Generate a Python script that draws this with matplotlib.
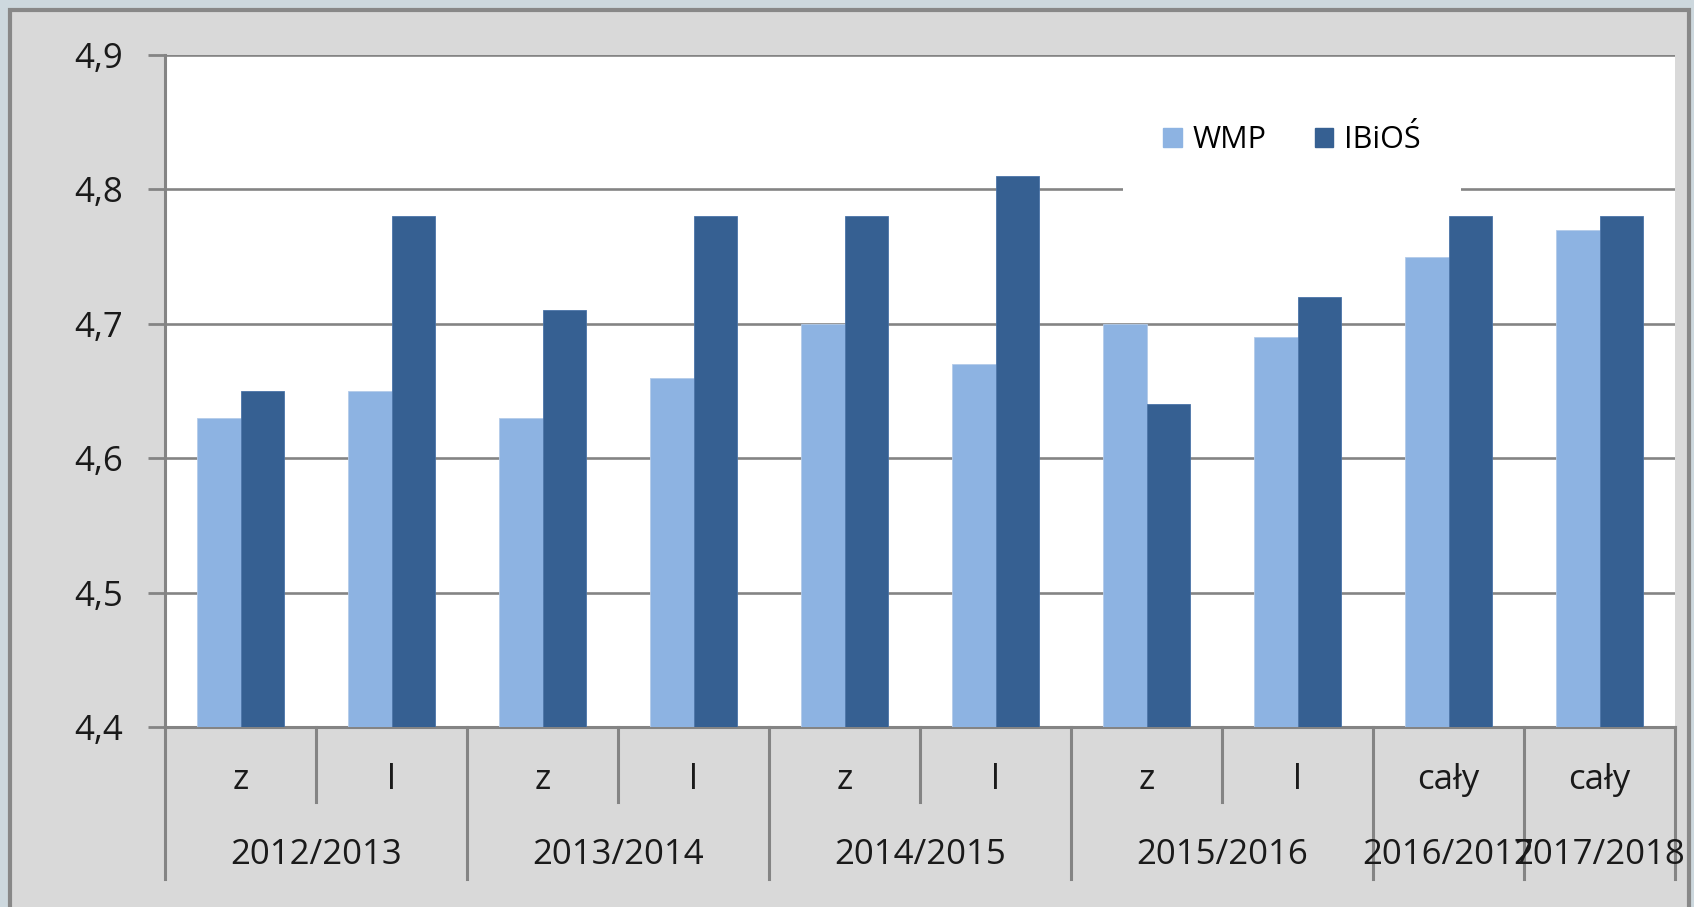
import matplotlib
matplotlib.use('Agg')
import matplotlib.pyplot as plt
from matplotlib.patches import Rectangle, Patch
from matplotlib.transforms import blended_transform_factory
import numpy as np

plt.rcParams['font.family'] = ['Open Sans', 'DejaVu Sans']

# dane
semesters = ['z', 'l', 'z', 'l', 'z', 'l', 'z', 'l', 'cały', 'cały']
years = ['2012/2013', '2013/2014', '2014/2015', '2015/2016', '2016/2017', '2017/2018']
year_spans = [(0, 1), (2, 3), (4, 5), (6, 7), (8, 8), (9, 9)]
wmp = [4.63, 4.65, 4.63, 4.66, 4.70, 4.67, 4.70, 4.69, 4.75, 4.77]
ibios = [4.65, 4.78, 4.71, 4.78, 4.78, 4.81, 4.64, 4.72, 4.78, 4.78]
yticks = [4.4, 4.5, 4.6, 4.7, 4.8, 4.9]

c_wmp = '#8db3e2'
c_ibios = '#366092'
c_grid = '#848484'

fig = plt.figure(figsize=(16.94, 9.07), dpi=100)
fig.patch.set_facecolor('#cdd8de')

# ramka wykresu
W, H = 1694, 907
fig.patches.append(Rectangle((10 / W, -0.05), 1679 / W, 1.05 - 10 / H,
                             transform=fig.transFigure, facecolor='#d9d9d9',
                             edgecolor='#888888', linewidth=3, zorder=-10))

ax = fig.add_axes([165 / W, 1 - 727 / H, 1510 / W, 672 / H])
ax.set_zorder(1)
ax.set_facecolor('white')

x = np.arange(len(semesters))
w = 0.286
ax.bar(x - w / 2, wmp, w, color=c_wmp, edgecolor='#b4cbe9', linewidth=0.6, zorder=3, label='WMP')
ax.bar(x + w / 2, ibios, w, color=c_ibios, edgecolor='#4a74a8', linewidth=0.6, zorder=3, label='IBiOŚ')

ax.set_xlim(-0.5, len(semesters) - 0.5)
ax.set_ylim(4.4, 4.9)
ax.set_yticks(yticks)
ax.set_yticklabels([f'{v:.1f}'.replace('.', ',') for v in yticks], fontsize=25, color='#1a1a1a')
ax.tick_params(axis='y', length=12, width=2, color=c_grid, pad=18)
ax.set_xticks([])
ax.yaxis.grid(True, color=c_grid, linewidth=1.9, zorder=1)
ax.set_axisbelow(True)

for s in ['top', 'right']:
    ax.spines[s].set_visible(False)
for s in ['left', 'bottom']:
    ax.spines[s].set_color(c_grid)
    ax.spines[s].set_linewidth(2.2)

# oś kategorii dwupoziomowa
tr = blended_transform_factory(ax.transData, ax.transAxes)
for i, lab in enumerate(semesters):
    ax.text(i, -0.079, lab, transform=tr, ha='center', va='center', fontsize=25, color='#1a1a1a')
for (a, b), yr in zip(year_spans, years):
    ax.text((a + b) / 2, -0.19, yr, transform=tr, ha='center', va='center', fontsize=25, color='#1a1a1a')
    if b > a:
        for k in range(a, b):
            ax.plot([k + 0.5, k + 0.5], [0, -0.112], transform=tr, color=c_grid, lw=2.2, clip_on=False)
    ax.plot([b + 0.5, b + 0.5], [0, -0.226], transform=tr, color=c_grid, lw=2.2, clip_on=False)
ax.plot([-0.5, -0.5], [0, -0.226], transform=tr, color=c_grid, lw=2.2, clip_on=False)

handles = [Patch(facecolor=c_wmp, edgecolor=c_wmp), Patch(facecolor=c_ibios, edgecolor=c_ibios)]
leg = ax.legend(handles, ['WMP', 'IBiOŚ'], ncol=2, loc='center',
                bbox_to_anchor=(1292 / W, 1 - 140 / H), bbox_transform=fig.transFigure,
                fontsize=22, frameon=True, facecolor='white', edgecolor='none', framealpha=1,
                fancybox=False, handlelength=0.6, handleheight=0.6, handletextpad=0.35,
                columnspacing=1.6, borderpad=1.3)
leg.set_zorder(5)

fig.savefig('out.png', dpi=100, facecolor=fig.get_facecolor())
